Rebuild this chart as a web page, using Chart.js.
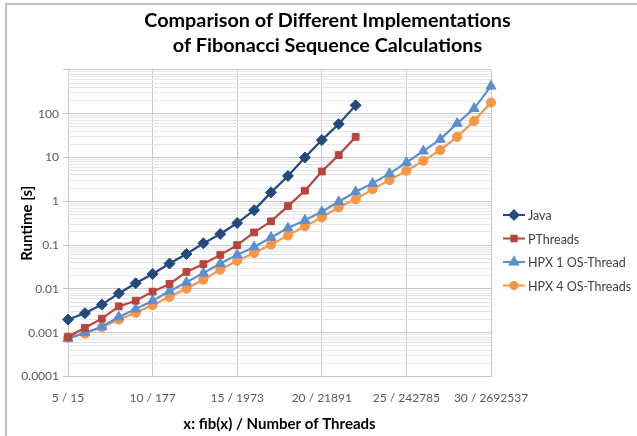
<!DOCTYPE html>
<html>
<head>
<meta charset="utf-8">
<script src="https://cdn.jsdelivr.net/npm/chart.js@4/dist/chart.umd.min.js"></script>
<style>
  html, body { margin: 0; padding: 0; background: #fff; }
  #wrap { position: relative; width: 637px; height: 436px; }
  #frame { position: absolute; left: 5px; top: 3px; right: 0; bottom: 0;
           border-top: 2px solid #bfbfbf; border-left: 2px solid #bfbfbf; }
  canvas { position: absolute; left: 0; top: 0; }
</style>
</head>
<body>
<div id="wrap">
  <div id="frame"></div>
  <canvas id="fibChart" width="637" height="436"></canvas>
</div>
<script>
// fib(x) argument and the number of threads it spawns
const fibArgs = [5, 6, 7, 8, 9, 10, 11, 12, 13, 14, 15, 16, 17, 18, 19, 20, 21, 22, 23, 24, 25, 26, 27, 28, 29, 30];
const threadCounts = [15, 25, 41, 67, 109, 177, 287, 465, 753, 1219, 1973, 3193, 5167, 8361, 13529, 21891,
    35421, 57313, 92735, 150049, 242785, 392835, 635621, 1028457, 1664079, 2692537];

// runtimes in seconds
const javaTimes = [0.002, 0.0028, 0.0044, 0.0079, 0.0135, 0.022, 0.038, 0.063, 0.11, 0.18, 0.32, 0.63,
    1.6, 3.8, 10, 25, 58, 155];
const pthreadTimes = [0.0008, 0.0013, 0.0021, 0.004, 0.0054, 0.0087, 0.013, 0.0245, 0.037, 0.06, 0.1, 0.195,
    0.35, 0.78, 1.75, 4.8, 11.4, 29.6];
const hpx1Times = [0.00073, 0.001, 0.00137, 0.0023, 0.0035, 0.0054, 0.0089, 0.0142, 0.023, 0.038, 0.06, 0.091,
    0.15, 0.245, 0.37, 0.58, 0.98, 1.65, 2.57, 4.3, 7.7, 14, 26, 60, 131, 425];
const hpx4Times = [0.00077, 0.00096, 0.00134, 0.002, 0.00285, 0.0043, 0.0066, 0.0102, 0.0163, 0.0276, 0.044, 0.066,
    0.103, 0.167, 0.27, 0.43, 0.73, 1.11, 1.9, 3.05, 5.0, 8.4, 14.7, 29.6, 68, 180];

const yTickLabels = ['0.0001', '0.001', '0.01', '0.1', '1', '10', '100'];

const FONT = 'Lato, "Open Sans", sans-serif';

const seriesDefs = [
    { label: 'Java', data: javaTimes, color: '#24497f', point: 'rectRot', radius: 5.5 },
    { label: 'PThreads', data: pthreadTimes, color: '#b8443f', point: 'rect', radius: 4.8 },
    { label: 'HPX 1 OS-Thread', data: hpx1Times, color: '#5a8fd2', point: 'triangle', radius: 5.8 },
    { label: 'HPX 4 OS-Threads', data: hpx4Times, color: '#f79646', point: 'circle', radius: 4.6 }
];

function isDecade(v) {
    const e = Math.log10(v);
    return Math.abs(e - Math.round(e)) < 1e-9;
}

// Excel-style legend: short line with the marker in the middle
const excelLegend = {
    id: 'excelLegend',
    afterDraw(chart) {
        const ctx = chart.ctx;
        const x0 = 503, top = 215, step = 23.5;
        ctx.save();
        chart.data.datasets.forEach(function(ds, i) {
            const y = top + i * step;
            ctx.strokeStyle = ds.borderColor;
            ctx.lineWidth = 2;
            ctx.beginPath();
            ctx.moveTo(x0, y);
            ctx.lineTo(x0 + 22, y);
            ctx.stroke();
            Chart.helpers.drawPoint(ctx, {
                pointStyle: ds.pointStyle, radius: ds.pointRadius - 1, borderWidth: 1
            }, x0 + 11, y);
            ctx.fillStyle = ds.borderColor;
            ctx.fill();
            ctx.fillStyle = '#404040';
            ctx.font = '12.5px ' + FONT;
            ctx.textBaseline = 'middle';
            ctx.fillText(ds.label, x0 + 25, y + 1);
        });
        ctx.restore();
    }
};

const ctx = document.getElementById('fibChart');

new Chart(ctx, {
    type: 'line',
    data: {
        labels: fibArgs,
        datasets: seriesDefs.map(function(s) {
            return {
                label: s.label,
                data: s.data,
                borderColor: s.color,
                backgroundColor: s.color,
                pointBackgroundColor: s.color,
                pointBorderColor: s.color,
                pointStyle: s.point,
                pointRadius: s.radius,
                pointBorderWidth: 1,
                borderWidth: 2.2,
                fill: false,
                tension: 0
            };
        })
    },
    options: {
        responsive: false,
        animation: false,
        devicePixelRatio: 1,
        layout: { padding: { left: 18, right: 0, top: 0, bottom: 3 } },
        plugins: {
            legend: { display: false },
            tooltip: { enabled: false },
            title: {
                display: true,
                text: ['Comparison of Different Implementations', 'of Fibonacci Sequence Calculations'],
                color: '#000',
                font: { family: FONT, size: 19.8, weight: 'bold', lineHeight: 1.26 },
                padding: { top: 8, bottom: 12 }
            }
        },
        scales: {
            x: {
                type: 'category',
                offset: false,
                grid: {
                    color: function(c) {
                        return (c.index % 5 === 0) ? '#c8c8c8' : 'rgba(0,0,0,0)';
                    },
                    drawTicks: false,
                    lineWidth: 1
                },
                border: { display: false },
                ticks: {
                    autoSkip: false,
                    maxRotation: 0,
                    padding: 14,
                    color: '#595959',
                    font: { family: FONT, size: 12 },
                    callback: function(val, i) {
                        return (fibArgs[i] % 5 === 0) ? fibArgs[i] + ' / ' + threadCounts[i] : '';
                    }
                },
                title: {
                    display: true,
                    text: 'x: fib(x) / Number of Threads',
                    color: '#000',
                    font: { family: FONT, size: 15, weight: 'bold' },
                    padding: { top: -4, bottom: 0 }
                }
            },
            y: {
                type: 'logarithmic',
                min: 0.0001,
                max: 1000,
                afterBuildTicks: function(axis) {
                    const ticks = [];
                    for (let e = -4; e <= 2; e++) {
                        for (let m = 1; m <= 9; m++) {
                            ticks.push({ value: m * Math.pow(10, e) });
                        }
                    }
                    ticks.push({ value: 1000 });
                    axis.ticks = ticks;
                },
                afterFit: function(axis) { axis.width = 50; },
                grid: {
                    color: function(c) {
                        return isDecade(c.tick.value) ? '#c8c8c8' : '#e6e6e6';
                    },
                    tickColor: function(c) {
                        return isDecade(c.tick.value) ? '#c8c8c8' : 'rgba(0,0,0,0)';
                    },
                    tickLength: 5,
                    lineWidth: 1
                },
                border: { display: false },
                ticks: {
                    autoSkip: false,
                    padding: 4,
                    color: '#595959',
                    font: { family: FONT, size: 12 },
                    callback: function(v) {
                        if (!isDecade(v)) return '';
                        const label = yTickLabels[Math.round(Math.log10(v)) + 4];
                        return label === undefined ? '' : label;
                    }
                },
                title: {
                    display: true,
                    text: 'Runtime [s]',
                    color: '#000',
                    font: { family: FONT, size: 15, weight: 'bold' },
                    padding: { top: 0, bottom: 4 }
                }
            },
            // empty right-hand axis that keeps room for the legend
            legendRoom: {
                type: 'linear',
                position: 'right',
                grid: { display: false, drawTicks: false },
                border: { display: false },
                ticks: { display: false },
                afterFit: function(axis) { axis.width = 146; }
            }
        }
    },
    plugins: [excelLegend]
});
</script>
</body>
</html>
